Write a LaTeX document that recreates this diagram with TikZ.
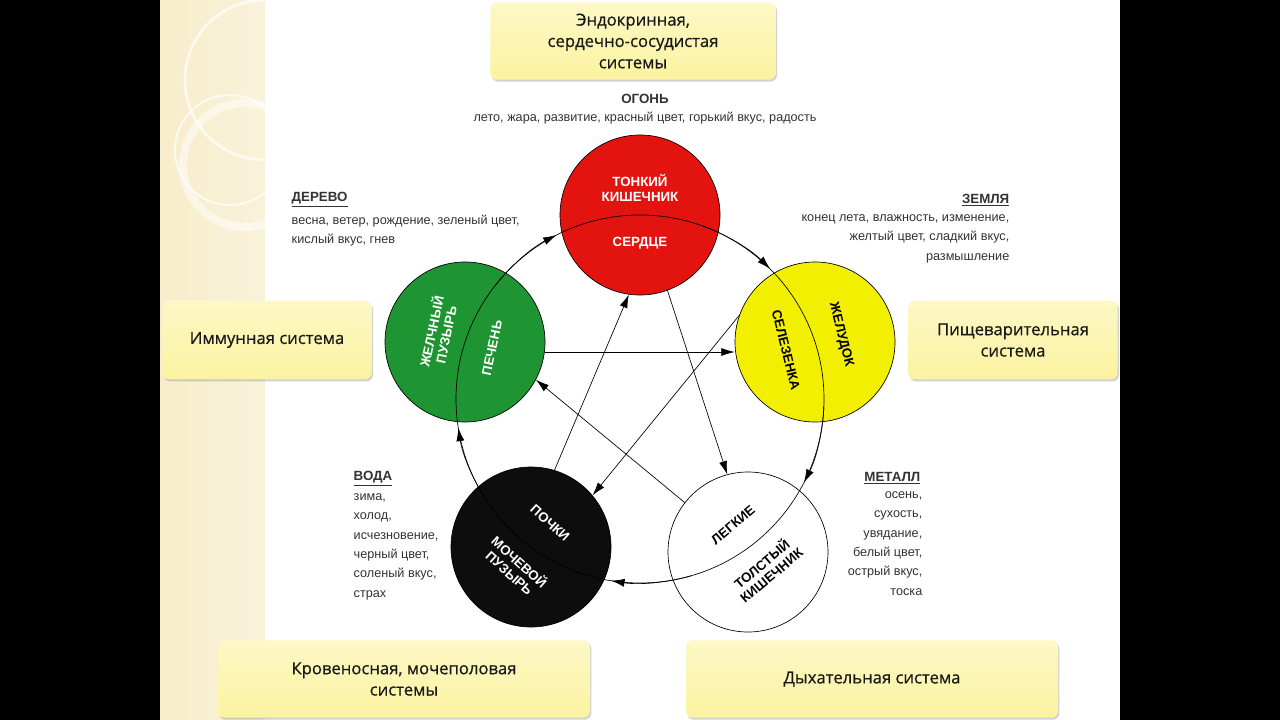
\documentclass[tikz,border=0pt]{standalone}
\usepackage{fontspec}
\setmainfont{Liberation Sans}
\newfontfamily\boxfont[FakeBold=0.6]{Open Sans}
\usetikzlibrary{arrows.meta,shadows}
\definecolor{cred}{HTML}{E3140F}
\definecolor{cgreen}{HTML}{1E9432}
\definecolor{cyel}{HTML}{F2F000}
\definecolor{boxy}{HTML}{FBF3A0}
\definecolor{strip}{HTML}{F7EDCB}
\definecolor{txt}{HTML}{333333}
\tikzset{
 organ/.style={circle,minimum size=120pt,inner sep=0pt,draw=black,line width=0.5pt},
 sysbox/.style={draw=none,rounded corners=5pt,top color=boxy!60,bottom color=boxy,
   drop shadow={shadow xshift=1pt,shadow yshift=-1.5pt,opacity=.35},
   font=\boxfont\fontsize{12.5}{16}\selectfont,align=center,text=black!90},
 otext/.style={font=\bfseries\fontsize{10}{11}\selectfont,align=center},
 elhead/.style={font=\bfseries\fontsize{10}{11}\selectfont,text=txt},
 eltext/.style={font=\fontsize{9.5}{14.5}\selectfont,text=txt},
 link/.style={-{Latex[length=10pt,width=6pt]},line width=0.5pt}
}
\begin{document}
\begin{tikzpicture}[x=0.75pt,y=-0.75pt]
\useasboundingbox (0,0) rectangle (1280,720);
\fill[black] (0,0) rectangle (1280,720);
\fill[white] (160,0) rectangle (1120,720);
\fill[left color=strip,right color=strip!70] (160,0) rectangle (265,720);
\begin{scope}
\clip (160,0) rectangle (265,720);
\draw[white,line width=2pt,opacity=.7] (265,80) circle (80);
\draw[white,line width=6pt,opacity=.5] (245,165) circle (62);
\draw[white,line width=1.5pt,opacity=.7] (230,150) circle (55);
\end{scope}
% circles
\node[organ,fill=cred] (fire) at (640,215) {};
\node[organ,fill=cyel] (earth) at (815,342) {};
\node[organ,fill=white] (metal) at (748,552) {};
\node[organ,fill=black!95] (water) at (531,547) {};
\node[organ,fill=cgreen] (wood) at (465,342) {};
% big cycle
\draw[line width=0.5pt] (640,399) circle (184);
\foreach \a in {198,270,342,54,126}{
  \draw[link] ({640+184*cos(\a+20)},{399+184*sin(\a+20)}) arc (\a+20:\a+45:184);
}
% star
\draw[link] (wood.east) ++(0,10) coordinate (w1) -- (earth.west |- w1);
\draw[link] (earth) ++(-160:80) coordinate (e1) -- (water.40);
\draw[link] (water.73) -- (fire.262);
\draw[link] (fire.290) -- (metal.105);
\draw[link] (metal.142) -- (wood.-28);
% organ texts
\node[otext,text=white] (t1) at (640,188) {ТОНКИЙ\\КИШЕЧНИК};
\node[otext,text=white] (t2) at (640,243) {СЕРДЦЕ};
\node[otext,text=white,rotate=78] (t3) at (438,333) {ЖЕЛЧНЫЙ\\ПУЗЫРЬ};
\node[otext,text=white,rotate=78] (t4) at (492,348) {ПЕЧЕНЬ};
\node[otext,rotate=-76] (t5) at (786,350) {СЕЛЕЗЕНКА};
\node[otext,rotate=-76] (t6) at (841,335) {ЖЕЛУДОК};
\node[otext,text=white,rotate=-42] (t7) at (550,523) {ПОЧКИ};
\node[otext,text=white,rotate=-42] (t8) at (515,567) {МОЧЕВОЙ\\ПУЗЫРЬ};
\node[otext,rotate=40] (t9) at (733,525) {ЛЕГКИЕ};
\node[otext,rotate=40] (t10) at (766,569) {ТОЛСТЫЙ\\КИШЕЧНИК};
% system boxes
\node[sysbox,minimum width=214pt,minimum height=58pt] (b1) at (633,41) {Эндокринная,\\сердечно-сосудистая\\системы};
\node[sysbox,minimum width=157pt,minimum height=59pt] (b2) at (267,340) {Иммунная система};
\node[sysbox,minimum width=157pt,minimum height=59pt] (b3) at (1013,340) {Пищеварительная\\система};
\node[sysbox,minimum width=279pt,minimum height=58pt] (b4) at (404,679) {Кровеносная, мочеполовая\\системы};
\node[sysbox,minimum width=279pt,minimum height=58pt] (b5) at (872,679) {Дыхательная система};
% element texts
\node[elhead] (h1) at (645,99) {ОГОНЬ};
\node[eltext] (d1) at (645,118) {лето, жара, развитие, красный цвет, горький вкус, радость};
\node[elhead,anchor=west] (h2) at (287,200) {\underline{ДЕРЕВО}};
\node[eltext,anchor=north west,align=left] (d2) at (287,210) {весна, ветер, рождение, зеленый цвет,\\кислый вкус, гнев};
\node[elhead,anchor=east] (h3) at (1014,200) {\underline{ЗЕМЛЯ}};
\node[eltext,anchor=north east,align=right] (d3) at (1014,210) {конец лета, влажность, изменение,\\желтый цвет, сладкий вкус,\\размышление};
\node[elhead,anchor=west] (h4) at (349,479) {\underline{ВОДА}};
\node[eltext,anchor=north west,align=left] (d4) at (349,489) {зима,\\холод,\\исчезновение,\\черный цвет,\\соленый вкус,\\страх};
\node[elhead,anchor=east] (h5) at (925,478) {\underline{МЕТАЛЛ}};
\node[eltext,anchor=north east,align=right] (d5) at (927,487) {осень,\\сухость,\\увядание,\\белый цвет,\\острый вкус,\\тоска};
\end{tikzpicture}
\end{document}
